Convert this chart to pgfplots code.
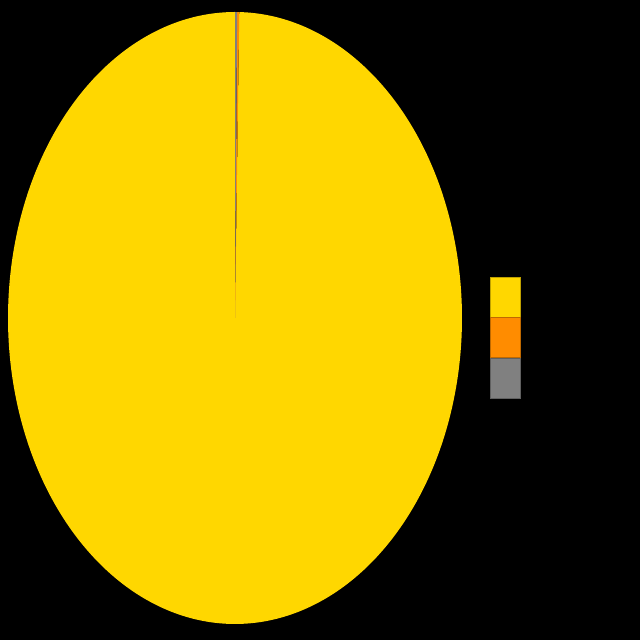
\documentclass[border=0pt]{standalone}
\usepackage{pgfplots}
\pgfplotsset{compat=1.18}
\definecolor{cYellow}{HTML}{FFD700}
\definecolor{cOrange}{HTML}{FF8C00}
\definecolor{cGray}{HTML}{808080}
% slice values (percent)
\def\valA{99.70}
\def\valB{0.15}
\def\valC{0.15}
\begin{document}
\begin{tikzpicture}
\fill[black] (0pt,0pt) rectangle (640pt,640pt);
\pgfmathsetmacro{\aS}{90}
\pgfmathsetmacro{\aA}{\aS+3.6*\valA}
\pgfmathsetmacro{\aB}{\aA+3.6*\valB}
\pgfmathsetmacro{\aC}{\aB+3.6*\valC}
\begin{axis}[
  at={(8pt,16pt)}, anchor=south west,
  width=454pt, height=612pt, scale only axis,
  xmin=-1, xmax=1, ymin=-1, ymax=1,
  hide axis, clip=false,
  legend style={at={(1.0617,0.567)}, anchor=north west, draw=none, fill=none,
    inner sep=0pt, outer sep=0pt, row sep=0pt,
    nodes={inner sep=0pt, outer sep=0pt}},
  legend cell align=left,
  legend image code/.code={\draw[#1] (0pt,-20pt) rectangle (30pt,20pt);},
]
\addplot[fill=cYellow, draw=none, domain=\aS:\aA, samples=400, variable=\t, forget plot]
  ({cos(t)},{sin(t)}) -- (0,0) -- cycle;
\addplot[fill=cOrange, draw=none, domain=\aA:\aB, samples=3, variable=\t, forget plot]
  ({cos(t)},{sin(t)}) -- (0,0) -- cycle;
\addplot[fill=cGray, draw=none, domain=\aB:\aC, samples=3, variable=\t, forget plot]
  ({cos(t)},{sin(t)}) -- (0,0) -- cycle;
\addlegendimage{fill=cYellow, draw=cYellow!75!black}
\addlegendentry{}
\addlegendimage{fill=cOrange, draw=cOrange!75!black}
\addlegendentry{}
\addlegendimage{fill=cGray, draw=cGray!75!black}
\addlegendentry{}
\end{axis}
\end{tikzpicture}
\end{document}
